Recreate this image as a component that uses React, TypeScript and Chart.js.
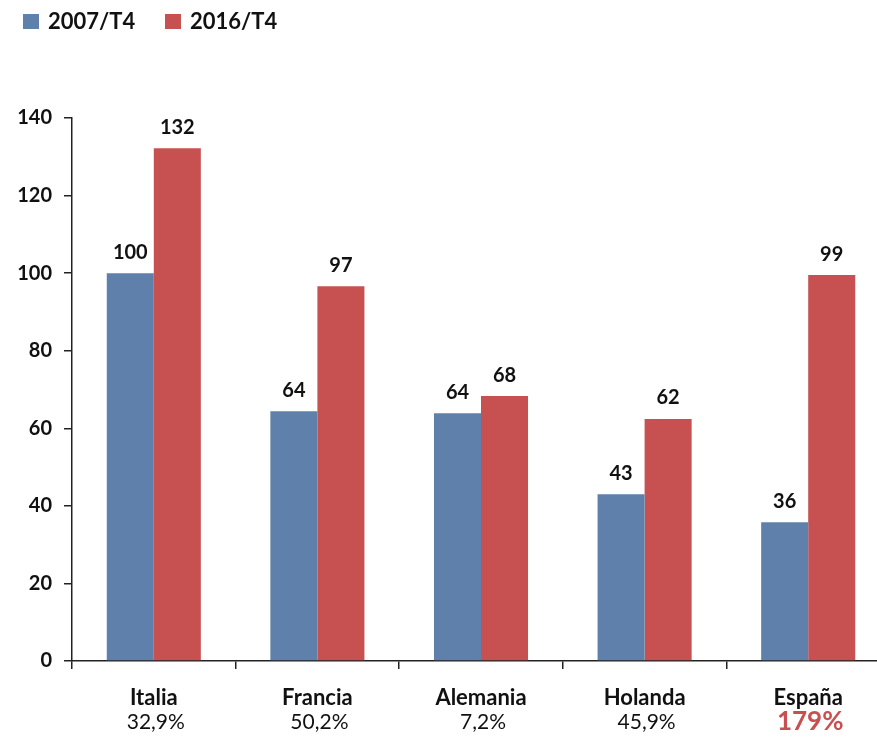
import React, { useEffect, useRef } from "react";
import { Chart, registerables } from "chart.js";
Chart.register(...registerables);

const categories = ["Italia", "Francia", "Alemania", "Holanda", "España"];
const growthLabels = ["32,9%", "50,2%", "7,2%", "45,9%", "179%"];
const series2007 = [100, 64.4, 63.9, 43, 35.8];
const series2016 = [132.2, 96.6, 68.3, 62.4, 99.5];
const labels2007 = ["100", "64", "64", "43", "36"];
const labels2016 = ["132", "97", "68", "62", "99"];
const seriesNames = ["2007/T4", "2016/T4"];
const yMin = 0;
const yMax = 140;
const yStep = 20;

const BLUE = "#5F80AA";
const RED = "#C75050";
const FONT = "Lato, 'Open Sans', sans-serif";

const overlay = {
  id: "overlay",
  afterDraw(chart: any) {
    const ctx = chart.ctx;
    ctx.save();
    // legend
    const colors = [BLUE, RED];
    const lx = [23, 165];
    ctx.font = `bold 22px ${FONT}`;
    ctx.textBaseline = "middle";
    ctx.textAlign = "left";
    seriesNames.forEach((n, i) => {
      ctx.fillStyle = colors[i];
      ctx.fillRect(lx[i], 14, 16, 15);
      ctx.fillStyle = "#111";
      ctx.fillText(n, lx[i] + 25, 22);
    });
    // data labels
    const lbls = [labels2007, labels2016];
    ctx.font = `bold 20px ${FONT}`;
    ctx.textAlign = "center";
    chart.data.datasets.forEach((_: any, di: number) => {
      const meta = chart.getDatasetMeta(di);
      meta.data.forEach((bar: any, i: number) => {
        ctx.fillStyle = "#111";
        ctx.fillText(lbls[di][i], bar.x, bar.y - 21);
      });
    });
    // x labels
    const xs = chart.scales.x;
    categories.forEach((c, i) => {
      const x = xs.getPixelForValue(i);
      ctx.fillStyle = "#111";
      ctx.font = `bold 22px ${FONT}`;
      ctx.fillText(c, x, 698);
      if (i === categories.length - 1) {
        ctx.fillStyle = RED;
        ctx.font = `bold 26px ${FONT}`;
      } else {
        ctx.fillStyle = "#111";
        ctx.font = `21px ${FONT}`;
      }
      ctx.fillText(growthLabels[i], x + 2, 722);
    });
    ctx.restore();
  },
};

export default function App() {
  const ref = useRef<HTMLCanvasElement>(null);
  useEffect(() => {
    if (!ref.current) return;
    const chart = new Chart(ref.current, {
      type: "bar",
      data: {
        labels: categories,
        datasets: [
          { label: seriesNames[0], data: series2007, backgroundColor: BLUE, borderWidth: 0 },
          { label: seriesNames[1], data: series2016, backgroundColor: RED, borderWidth: 0 },
        ],
      },
      options: {
        responsive: false,
        animation: false,
        devicePixelRatio: 1,
        layout: { padding: { top: 118, right: 10, left: 0, bottom: 0 } },
        datasets: { bar: { categoryPercentage: 0.575, barPercentage: 1 } },
        plugins: { legend: { display: false }, tooltip: { enabled: false } },
        scales: {
          x: {
            grid: { drawOnChartArea: false, tickLength: 8, color: "#222", lineWidth: 1.5 },
            border: { color: "#222", width: 1.5 },
            ticks: { display: false },
            afterFit: (s: any) => {
              s.height = 76;
            },
          },
          y: {
            min: yMin,
            max: yMax,
            ticks: {
              stepSize: yStep,
              padding: 12,
              color: "#111",
              font: { family: FONT, weight: "bold", size: 20 },
            },
            grid: { drawOnChartArea: false, tickLength: 8, color: "#222", lineWidth: 1.5 },
            border: { color: "#222", width: 1.5 },
            afterFit: (s: any) => {
              s.width = 72;
            },
          },
        },
      },
      plugins: [overlay],
    });
    return () => chart.destroy();
  }, []);
  return (
    <div style={{ position: "absolute", left: 0, top: 0, width: 877, height: 737, overflow: "hidden", background: "#fff" }}>
      <canvas ref={ref} width={900} height={737} style={{ display: "block", width: 900, height: 737 }} />
    </div>
  );
}
